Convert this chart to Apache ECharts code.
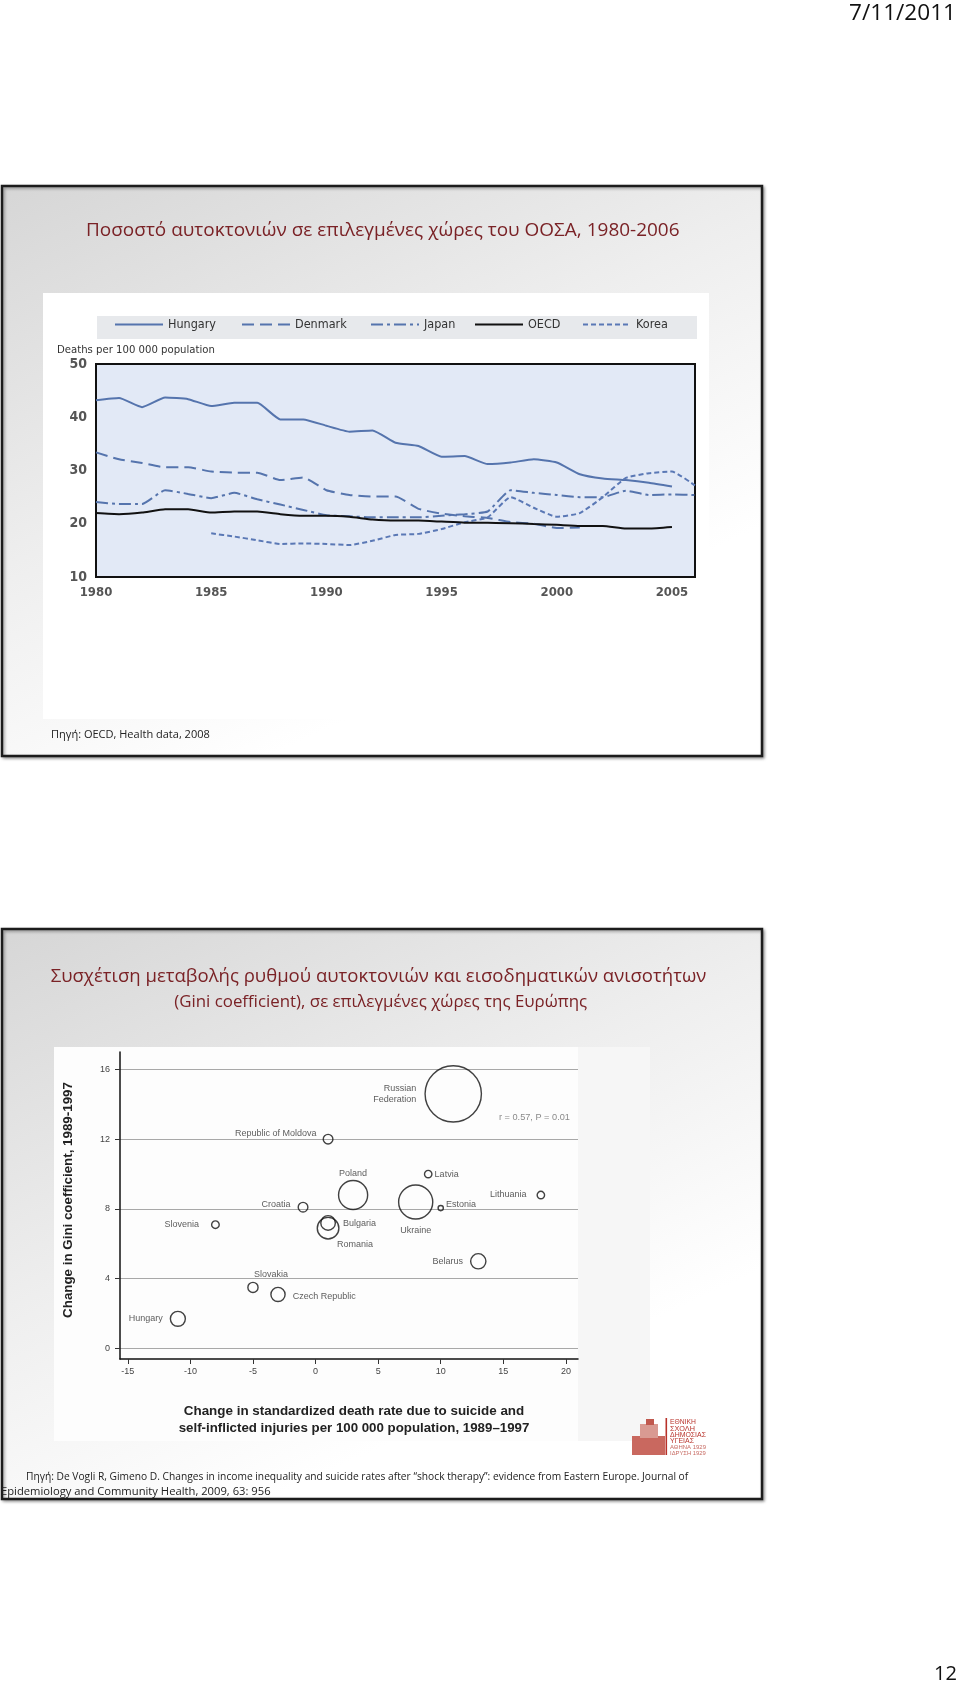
<!DOCTYPE html>
<html><head><meta charset="utf-8">
<script src="https://cdn.jsdelivr.net/npm/echarts@6/dist/echarts.min.js"></script>
<style>html,body{margin:0;padding:0;background:#fff}#c{width:960px;height:1684px}</style>
</head><body><div id="c"></div>
<script>
// ===== Chart 1: suicide rates, selected OECD countries =====
const years = [1980,1981,1982,1983,1984,1985,1986,1987,1988,1989,1990,1991,1992,1993,1994,1995,1996,1997,1998,1999,2000,2001,2002,2003,2004,2005,2006];
const hungary = [43.2,43.6,41.9,43.7,43.4,42.1,42.7,42.7,39.6,39.6,38.4,37.3,37.5,35.2,34.6,32.6,32.7,31.2,31.5,32.1,31.5,29.3,28.5,28.2,27.7,27.0,null];
const denmark = [33.4,32.1,31.4,30.6,30.6,29.8,29.6,29.6,28.2,28.7,26.3,25.4,25.1,25.1,22.8,21.9,21.4,21.1,20.3,20.0,19.2,19.3,null,null,null,null,null];
const japan   = [24.1,23.7,23.7,26.3,25.6,24.8,25.8,24.6,23.6,22.6,21.6,21.4,21.2,21.2,21.2,21.5,21.8,22.3,26.3,25.8,25.4,25.0,25.0,26.2,25.4,25.5,25.4];
const oecd    = [22.0,21.8,22.1,22.7,22.7,22.1,22.3,22.3,21.8,21.5,21.5,21.3,20.8,20.6,20.6,20.4,20.2,20.2,20.1,19.95,19.8,19.6,19.6,19.1,19.1,19.4,null];
const korea   = [null,null,null,null,null,18.2,17.6,16.9,16.2,16.3,16.2,16.0,16.8,17.9,18.1,19.0,20.3,21.2,25.0,23.0,21.3,22.0,25.0,28.6,29.5,29.8,27.2];
const seriesNames1 = ['Hungary','Denmark','Japan','OECD','Korea'];
const xLabelYears1 = [1980,1985,1990,1995,2000,2005];
const yLabels1 = [10,20,30,40,50];

// ===== Chart 2: change in suicide rate vs change in Gini =====
const countries   = ['Hungary','Slovakia','Czech Republic','Slovenia','Croatia','Republic of Moldova','Romania','Bulgaria','Poland','Ukraine','Latvia','Estonia','Lithuania','Belarus','Russian Federation'];
const deathChange = [-11,-5,-3,-8,-1,1,1,1,3,8,9,10,18,13,11];
const giniChange  = [1.7,3.5,3.1,7.1,8.1,12.0,6.9,7.2,8.8,8.4,10.0,8.05,8.8,5.0,14.6];
const bubbleSize  = [10.6,4.9,9.5,2.7,4.4,4.4,22,10,40,55,2.6,1.3,2.6,11,150];
const xTicks2 = [-15,-10,-5,0,5,10,15,20];
const yTicks2 = [0,4,8,12,16];

// ---------- styling helpers ----------
const F_TITLE = "'Open Sans','Noto Sans',sans-serif";
const F_NARROW = "'Liberation Sans Narrow','DejaVu Sans Condensed','Roboto Condensed','Arial Narrow',Roboto,sans-serif";
const F_ARIAL = "'Liberation Sans',Arial,sans-serif";
const ctx = document.createElement('canvas').getContext('2d');
function fit(text, family, weight, target){
  ctx.font = weight + ' 100px ' + family;
  return 100 * target / ctx.measureText(text).width;
}
function txt(x, y, text, family, weight, width, fill, align, extra){
  const o = {type:'text', x:x, y:y, z:100,
    style:{text:text, fontFamily:family, fontWeight:weight, fontSize:fit(text,family,weight,width),
      fill:fill, align:align||'left', verticalAlign:'middle'}};
  return Object.assign(o, extra||{});
}
function pairs(arr){ return years.map((y,i)=>[y, arr[i]==null ? '-' : arr[i]]); }

const BLUE = '#5574ad';
const lineStyles = {
  Hungary:{color:BLUE,width:2,type:'solid'},
  Denmark:{color:BLUE,width:2,type:[12,6]},
  Japan:{color:BLUE,width:2,type:[12,4,3,4]},
  OECD:{color:'#111',width:2,type:'solid'},
  Korea:{color:'#5a78b5',width:2,type:[5,3]}
};
const dataMap = {Hungary:hungary, Denmark:denmark, Japan:japan, OECD:oecd, Korea:korea};
const legendLeft = {Hungary:114, Denmark:241, Japan:370, OECD:474, Korea:582};

const labelCfg = {
  'Hungary':{position:'left',distance:7},
  'Slovakia':{position:'top',distance:3,offset:[18,0]},
  'Czech Republic':{position:'right',distance:7,offset:[0,2]},
  'Slovenia':{position:'left',distance:12},
  'Croatia':{position:'left',distance:7,offset:[0,-3]},
  'Republic of Moldova':{position:'left',distance:6,offset:[0,-6]},
  'Romania':{position:'bottom',distance:0,offset:[27,0]},
  'Bulgaria':{position:'right',distance:7,offset:[0,1]},
  'Poland':{position:'top',distance:2},
  'Ukraine':{position:'bottom',distance:6},
  'Latvia':{position:'right',distance:2},
  'Estonia':{position:'right',distance:2,offset:[0,-4]},
  'Lithuania':{position:'left',distance:10},
  'Belarus':{position:'left',distance:7},
  'Russian Federation':{position:'left',distance:8,formatter:'Russian\nFederation',align:'right',lineHeight:11}
};

const slideFill = {type:'linear',x:0,y:0,x2:0.35,y2:1,colorStops:[
  {offset:0,color:'#d6d6d6'},{offset:0.55,color:'#eeeeee'},{offset:1,color:'#ffffff'}]};

const graphics = [
  {type:'rect', z:-100, shape:{x:2,y:186,width:760,height:570},
   style:{fill:slideFill, stroke:'#1c1c1c', lineWidth:2.5, shadowBlur:3, shadowColor:'rgba(0,0,0,0.35)', shadowOffsetX:1.5, shadowOffsetY:1.5}},
  {type:'rect', z:-100, shape:{x:2,y:929,width:760,height:570},
   style:{fill:slideFill, stroke:'#1c1c1c', lineWidth:2.5, shadowBlur:3, shadowColor:'rgba(0,0,0,0.35)', shadowOffsetX:1.5, shadowOffsetY:1.5}},
  {type:'rect', z:-90, shape:{x:43,y:293,width:666,height:426}, style:{fill:'#ffffff'}},
  {type:'rect', z:-80, shape:{x:97,y:316,width:600,height:23}, style:{fill:'#e7e9ec'}},
  {type:'rect', z:-90, shape:{x:54,y:1047,width:596,height:394}, style:{fill:'#f6f6f6'}},
  {type:'rect', z:-85, shape:{x:54,y:1047,width:524,height:394}, style:{fill:'#fdfdfd'}},
  // logo
  {type:'rect', z:50, shape:{x:632,y:1436,width:33,height:19}, style:{fill:'#c9685f'}},
  {type:'rect', z:50, shape:{x:640,y:1424,width:18,height:14}, style:{fill:'#d99a92'}},
  {type:'rect', z:50, shape:{x:646,y:1419,width:8,height:6}, style:{fill:'#c0584e'}},
  {type:'rect', z:50, shape:{x:665.5,y:1418,width:1.6,height:37}, style:{fill:'#b8322a'}},
  txt(670,1422,'ΕΘΝΙΚΗ',F_ARIAL,'normal',26,'#b8322a'),
  txt(670,1428.5,'ΣΧΟΛΗ',F_ARIAL,'normal',25,'#b8322a'),
  txt(670,1435,'ΔΗΜΟΣΙΑΣ',F_ARIAL,'normal',36,'#b8322a'),
  txt(670,1441.5,'ΥΓΕΙΑΣ',F_ARIAL,'normal',24,'#b8322a'),
  txt(670,1447.5,'ΑΘΗΝΑ 1929',F_ARIAL,'normal',36,'#c76a62'),
  txt(670,1453,'ΙΔΡΥΣΗ 1929',F_ARIAL,'normal',36,'#c76a62'),
  // texts
  txt(956,14,'7/11/2011',F_TITLE,'normal',107,'#111','right'),
  txt(957,1674,'12',F_TITLE,'normal',23,'#111','right'),
  txt(382.8,231,'Ποσοστό αυτοκτονιών σε επιλεγμένες χώρες του ΟΟΣΑ, 1980-2006',F_TITLE,'normal',594,'#7a2226','center'),
  txt(378.5,977,'Συσχέτιση μεταβολής ρυθμού αυτοκτονιών και εισοδηματικών ανισοτήτων',F_TITLE,'normal',656,'#7a2226','center'),
  txt(380.7,1002,'(Gini coefficient), σε επιλεγμένες χώρες της Ευρώπης',F_TITLE,'normal',413,'#7a2226','center'),
  txt(51,735,'Πηγή: OECD, Health data, 2008',F_TITLE,'normal',159,'#222'),
  txt(26,1477,'Πηγή: De Vogli R, Gimeno D. Changes in income inequality and suicide rates after “shock therapy”: evidence from Eastern Europe. Journal of',F_TITLE,'normal',663,'#222'),
  txt(1,1492,'Epidemiology and Community Health, 2009, 63: 956',F_TITLE,'normal',270,'#222'),
  txt(57,350,'Deaths per 100 000 population',F_NARROW,'normal',158,'#333'),
  txt(68,1200,'Change in Gini coefficient, 1989-1997',F_ARIAL,'bold',236,'#222','center',{rotation:Math.PI/2}),
  txt(354,1411,'Change in standardized death rate due to suicide and',F_ARIAL,'bold',341,'#222','center'),
  txt(354,1428,'self-inflicted injuries per 100 000 population, 1989–1997',F_ARIAL,'bold',351,'#222','center'),
  txt(499,1117,'r = 0.57, P = 0.01',F_ARIAL,'normal',71,'#8a8a8a')
];

const legends = seriesNames1.map(n => ({
  left: legendLeft[n], top: 318, padding: 0, itemWidth: 48, itemHeight: 14, selectedMode:false,
  itemStyle:{color:'rgba(0,0,0,0)', borderWidth:0, opacity:0},
  data:[n], textStyle:{fontFamily:F_NARROW, fontSize:12.5, color:'#333'}
}));

const lineSeries = seriesNames1.map(n => ({
  name:n, type:'line', xAxisIndex:0, yAxisIndex:0, symbol:'none', smooth:0.15,
  data: pairs(dataMap[n]), lineStyle: lineStyles[n], itemStyle:{color:lineStyles[n].color},
  z: n==='OECD' ? 3 : 2, emphasis:{disabled:true}, silent:true
}));

const option = {
  animation:false,
  backgroundColor:'#ffffff',
  graphic: graphics,
  legend: legends,
  grid:[
    {left:96, top:364, width:599, height:213, show:true, backgroundColor:'#e2e9f6', borderColor:'#111', borderWidth:2, z:1},
    {left:120, top:1052, width:458, height:307, show:false}
  ],
  xAxis:[
    {type:'value', gridIndex:0, min:1980, max:2006, interval:1,
     axisLine:{show:true, lineStyle:{color:'#111', width:2}},
     axisTick:{show:true, inside:true, length:7, lineStyle:{color:'#111', width:1.5}},
     splitLine:{show:true, lineStyle:{color:'#ffffff', width:1.8}},
     axisLabel:{margin:9, fontFamily:F_NARROW, fontSize:13, fontWeight:'bold', color:'#555',
       formatter: v => xLabelYears1.indexOf(v) >= 0 ? String(v) : ''}},
    {type:'value', gridIndex:1, min:-15.623, max:20.967,
     axisLine:{show:true, onZero:false, lineStyle:{color:'#111', width:1.5}},
     axisTick:{show:true, length:5, customValues:xTicks2, lineStyle:{color:'#333'}},
     splitLine:{show:false},
     axisLabel:{customValues:xTicks2, margin:8, fontFamily:F_ARIAL, fontSize:9, color:'#444'}}
  ],
  yAxis:[
    {type:'value', gridIndex:0, position:'left', min:10, max:50, interval:8,
     axisLine:{show:true, lineStyle:{color:'#111', width:2}},
     axisTick:{show:true, inside:true, length:6, lineStyle:{color:'#111', width:1.5}},
     splitLine:{show:true, lineStyle:{color:'#ffffff', width:1.8}},
     axisLabel:{show:false}},
    {type:'value', gridIndex:0, position:'left', offset:0, min:10, max:50, interval:10,
     axisLine:{show:false}, axisTick:{show:false}, splitLine:{show:false},
     axisLabel:{margin:9, fontFamily:F_NARROW, fontSize:14, fontWeight:'bold', color:'#555',
       formatter: v => yLabels1.indexOf(v) >= 0 ? String(v) : ''}},
    {type:'value', gridIndex:1, position:'left', min:-0.603, max:17.0,
     axisLine:{show:true, onZero:false, lineStyle:{color:'#111', width:1.5}},
     axisTick:{show:true, length:5, customValues:yTicks2, lineStyle:{color:'#333'}},
     splitLine:{show:true, lineStyle:{color:'#a8a8a8', width:1}},
     axisLabel:{customValues:yTicks2, margin:10, fontFamily:F_ARIAL, fontSize:9, color:'#444'}}
  ],
  series: lineSeries.concat([{
    name:'countries', type:'scatter', xAxisIndex:1, yAxisIndex:2,
    symbol:'circle', symbolSize: v => 4.6*Math.sqrt(v[2]),
    itemStyle:{color:'rgba(255,255,255,0)', borderColor:'#111', borderWidth:1.4},
    label:{show:true, formatter:'{b}', fontFamily:F_ARIAL, fontSize:9, color:'#333'},
    emphasis:{disabled:true}, silent:true,
    data: countries.map((c,i)=>({name:c, value:[deathChange[i], giniChange[i], bubbleSize[i]], label:labelCfg[c]}))
  }])
};
const chart = echarts.init(document.getElementById('c'), null, {renderer:'canvas'});
chart.setOption(option);
</script>
</body></html>
